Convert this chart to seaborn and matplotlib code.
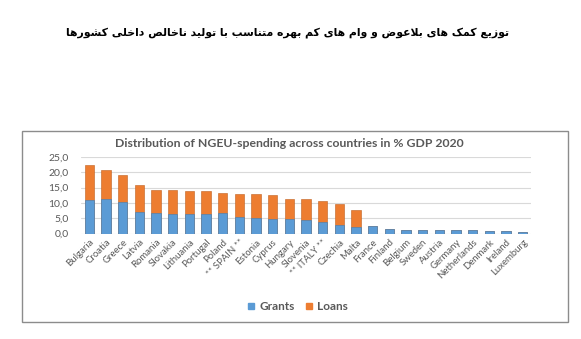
import matplotlib
matplotlib.use("Agg")
import matplotlib.pyplot as plt
import seaborn as sns
import numpy as np
import pandas as pd
from matplotlib.patches import Rectangle
from matplotlib.lines import Line2D

countries = ["Bulgaria", "Croatia", "Greece", "Latvia", "Romania", "Slovakia",
             "Lithuania", "Portugal", "Poland", "** SPAIN **", "Estonia", "Cyprus",
             "Hungary", "Slovenia", "** ITALY **", "Czechia", "Malta", "France",
             "Finland", "Belgium", "Sweden", "Austria", "Germany", "Netherlands",
             "Denmark", "Ireland", "Luxemburg"]
grants = [10.8, 11.2, 10.3, 6.9, 6.6, 6.3, 6.4, 6.4, 6.7, 5.5, 5.2, 4.8,
          4.7, 4.3, 3.7, 2.8, 2.2, 2.5, 1.6, 1.3, 1.3, 1.2, 1.2, 1.1,
          0.8, 0.7, 0.5]
loans = [11.6, 9.7, 8.8, 8.8, 7.7, 7.9, 7.5, 7.6, 6.4, 7.3, 7.6, 7.9,
         6.6, 6.9, 7.0, 6.8, 5.6, 0, 0, 0, 0, 0, 0, 0,
         0, 0, 0]
yticks = [0, 5, 10, 15, 20, 25]
ytick_labels = ["0,0", "5,0", "10,0", "15,0", "20,0", "25,0"]

title_fa = "توزیع کمک های بلاعوض و وام های کم بهره متناسب با تولید ناخالص داخلی کشورها"
chart_title = "Distribution of NGEU-spending across countries in % GDP 2020"

# --- minimal Persian shaping (presentation forms + RTL order) ---
FORMS = {
    'ا': (0xFE8D, 0xFE8E), 'د': (0xFEA9, 0xFEAA), 'ر': (0xFEAD, 0xFEAE),
    'ز': (0xFEAF, 0xFEB0), 'و': (0xFEED, 0xFEEE),
    'ب': (0xFE8F, 0xFE90, 0xFE91, 0xFE92), 'ت': (0xFE95, 0xFE96, 0xFE97, 0xFE98),
    'خ': (0xFEA5, 0xFEA6, 0xFEA7, 0xFEA8), 'س': (0xFEB1, 0xFEB2, 0xFEB3, 0xFEB4),
    'ش': (0xFEB5, 0xFEB6, 0xFEB7, 0xFEB8), 'ص': (0xFEB9, 0xFEBA, 0xFEBB, 0xFEBC),
    'ض': (0xFEBD, 0xFEBE, 0xFEBF, 0xFEC0), 'ع': (0xFEC9, 0xFECA, 0xFECB, 0xFECC),
    'ل': (0xFEDD, 0xFEDE, 0xFEDF, 0xFEE0), 'م': (0xFEE1, 0xFEE2, 0xFEE3, 0xFEE4),
    'ن': (0xFEE5, 0xFEE6, 0xFEE7, 0xFEE8), 'ه': (0xFEE9, 0xFEEA, 0xFEEB, 0xFEEC),
    'ک': (0xFB8E, 0xFB8F, 0xFB90, 0xFB91), 'ی': (0xFBFC, 0xFBFD, 0xFBFE, 0xFBFF),
}
DUAL = {k for k, v in FORMS.items() if len(v) == 4}


def shape(s):
    out = []
    i, n = 0, len(s)
    while i < n:
        c = s[i]
        if c not in FORMS:
            out.append(c)
            i += 1
            continue
        p = i > 0 and s[i - 1] in DUAL
        if c == 'ل' and i + 1 < n and s[i + 1] == 'ا':
            out.append('\uFEFC' if p else '\uFEFB')
            i += 2
            continue
        nx = c in DUAL and i + 1 < n and s[i + 1] in FORMS
        f = FORMS[c]
        if p and nx:
            g = f[3]
        elif p:
            g = f[1]
        elif nx:
            g = f[2]
        else:
            g = f[0]
        out.append(chr(g))
        i += 1
    return ''.join(reversed(out))


sns.set_theme(style="white")
plt.rcParams['font.family'] = ['Lato', 'DejaVu Sans']

df = pd.DataFrame({"country": countries, "Grants": grants, "Loans": loans})
df["Total"] = df["Grants"] + df["Loans"]

fig = plt.figure(figsize=(5.81, 3.39), dpi=100)
fig.patch.set_facecolor("white")

# outer chart frame
fig.patches.append(Rectangle((22 / 581, 1 - 322 / 339), (568 - 22) / 581, (322 - 131) / 339,
                             transform=fig.transFigure, fill=False,
                             edgecolor="#8c8c8c", lw=1.0, zorder=0))

ax = fig.add_axes([81 / 581, 1 - 233.5 / 339, (531 - 81) / 581, (233.5 - 157) / 339])

blue = "#5B9BD5"
orange = "#ED7D31"
sns.barplot(data=df, x="country", y="Total", color=orange, saturation=1,
            width=0.55, ax=ax, edgecolor="#c0601f", linewidth=0.4, zorder=3)
sns.barplot(data=df, x="country", y="Grants", color=blue, saturation=1,
            width=0.55, ax=ax, edgecolor="#3f7fb8", linewidth=0.4, zorder=4)

ax.set_ylim(0, 25)
ax.set_xlim(-0.5, len(countries) - 0.5)
ax.set_yticks(yticks)
ax.set_yticklabels(ytick_labels, fontsize=7.5, color="#595959")
ax.yaxis.grid(True, color="#d9d9d9", lw=0.8, zorder=0)
ax.set_axisbelow(True)
for s in ax.spines.values():
    s.set_visible(False)
ax.tick_params(axis="x", length=0, pad=3)
ax.tick_params(axis="y", length=0, pad=9)
ax.set_xlabel("")
ax.set_ylabel("")
ax.set_xticks(range(len(countries)))
ax.set_xticklabels(countries, rotation=45, ha="right", rotation_mode="anchor",
                   fontsize=6.9, color="#595959")

# legend
handles = [Line2D([], [], marker="s", ls="", color=blue, markersize=4.5),
           Line2D([], [], marker="s", ls="", color=orange, markersize=4.5)]
fig.legend(handles, ["Grants", "Loans"], loc="center", bbox_to_anchor=(298 / 581, 1 - 307 / 339),
           ncol=2, frameon=False, handlelength=0.6, handletextpad=0.4, columnspacing=0.9,
           labelcolor="#595959", prop={"family": ["Lato", "DejaVu Sans"], "weight": "bold", "size": 8.5})

fig.text(289 / 581, 1 - 143 / 339, chart_title, ha="center", va="center",
         fontsize=8.8, color="#595959", fontweight="bold")

fig.text(288 / 581, 1 - 33 / 339, shape(title_fa), ha="center", va="center",
         fontsize=7.8, color="black", fontweight="bold", family=["DejaVu Sans"])

fig.savefig("out.png", dpi=100, facecolor="white")
